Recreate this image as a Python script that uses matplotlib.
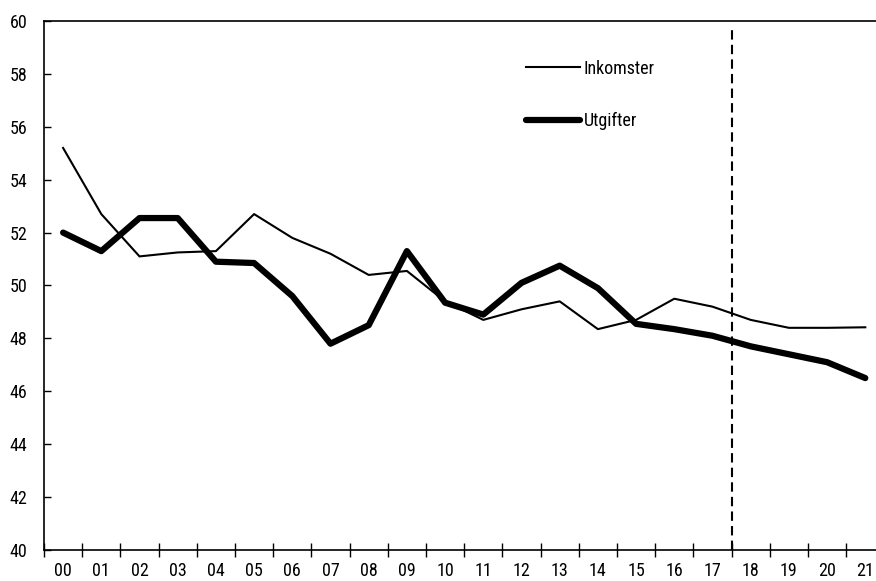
import matplotlib
matplotlib.use("Agg")
import matplotlib.pyplot as plt
from matplotlib import font_manager

years = ["00", "01", "02", "03", "04", "05", "06", "07", "08", "09", "10",
         "11", "12", "13", "14", "15", "16", "17", "18", "19", "20", "21"]
inkomster = [55.2, 52.7, 51.1, 51.25, 51.3, 52.7, 51.8, 51.2, 50.4, 50.55, 49.4,
             48.7, 49.1, 49.4, 48.35, 48.7, 49.5, 49.2, 48.7, 48.4, 48.4, 48.42]
utgifter = [52.0, 51.3, 52.55, 52.55, 50.9, 50.85, 49.6, 47.8, 48.5, 51.3, 49.35,
            48.9, 50.1, 50.75, 49.9, 48.55, 48.35, 48.1, 47.7, 47.4, 47.1, 46.5]
forecast_split = 17.5

names = {f.name for f in font_manager.fontManager.ttflist}
fam = [f for f in ["Liberation Sans Narrow", "Roboto Condensed", "DejaVu Sans Condensed"] if f in names]
plt.rcParams["font.family"] = fam + ["DejaVu Sans"]

fig = plt.figure(figsize=(8.76, 5.81), dpi=100)
W, H = 876, 581
left, right, top, bottom = 44, 884.4, 21, 550
ax = fig.add_axes([left / W, 1 - bottom / H, (right - left) / W, (bottom - top) / H])

x = list(range(len(years)))
ax.plot(x, inkomster, color="black", lw=1.5, label="Inkomster")
ax.plot(x, utgifter, color="black", lw=4.5, label="Utgifter", solid_capstyle="round")
ax.axvline(forecast_split, ymin=0, ymax=0.988, color="black", lw=1.5, ls=(0, (4.5, 2.5)))

ax.set_xlim(-0.5, len(years) - 0.5)
ax.set_ylim(40, 60)
ax.set_yticks(range(40, 61, 2))
ax.set_xticks(x)
ax.set_xticklabels(years)
ax.set_xticks([i + 0.5 for i in range(-1, len(years))], minor=True)
ax.tick_params(axis="x", which="major", length=0, pad=9, labelsize=13)
ax.tick_params(axis="x", which="minor", direction="inout", length=10, width=1)
ax.tick_params(axis="y", direction="in", length=5, width=1, pad=12, labelsize=13)
for s in ["left", "bottom", "top"]:
    ax.spines[s].set_linewidth(1.2)
ax.spines["right"].set_visible(False)

leg = ax.legend(loc="upper left", bbox_to_anchor=((526 - left) / (right - left), 1 - (59.5 - top) / (bottom - top)),
                frameon=False, fontsize=13, handlelength=3.0, handletextpad=0.2,
                labelspacing=1.9, borderpad=0, borderaxespad=0)

fig.savefig("out.png", dpi=100)
